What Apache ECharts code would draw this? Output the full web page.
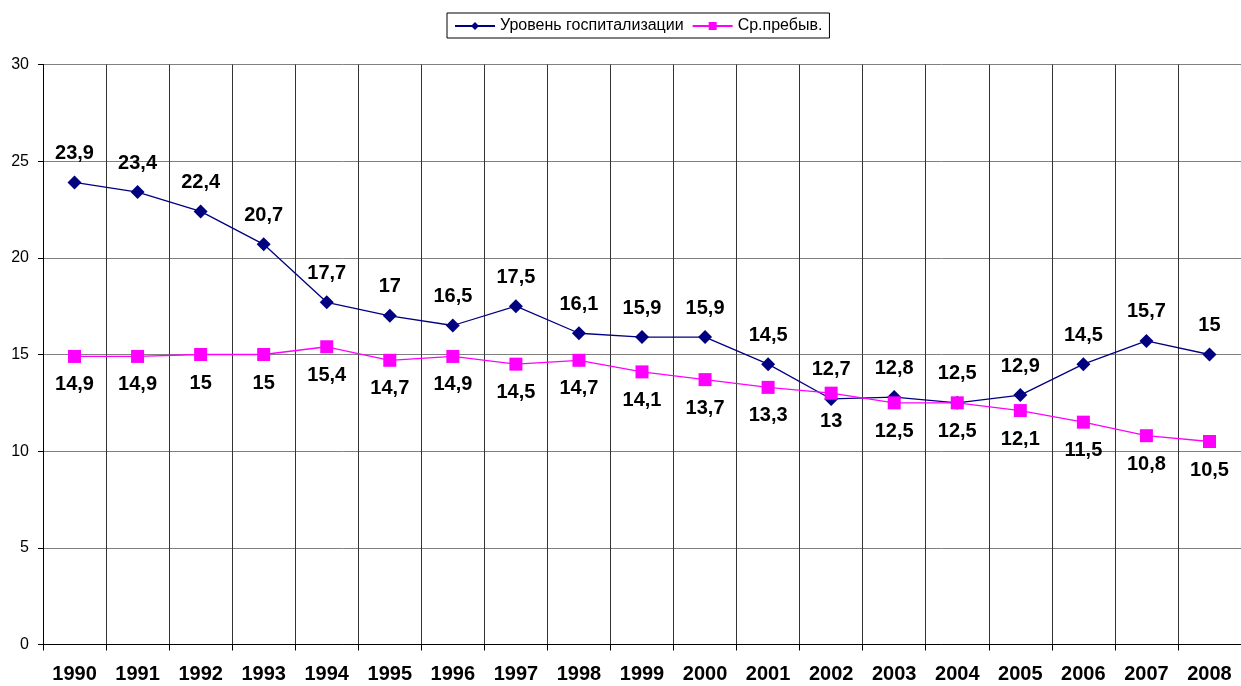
<!DOCTYPE html>
<html>
<head>
<meta charset="utf-8">
<script src="https://cdn.jsdelivr.net/npm/echarts@6/dist/echarts.min.js"></script>
<style>
html,body{margin:0;padding:0;background:#fff;}
#main{width:1241px;height:686px;}
</style>
</head>
<body>
<div id="main"></div>
<script>
var years = ['1990','1991','1992','1993','1994','1995','1996','1997','1998','1999','2000','2001','2002','2003','2004','2005','2006','2007','2008'];
var hospLevel = [23.9,23.4,22.4,20.7,17.7,17,16.5,17.5,16.1,15.9,15.9,14.5,12.7,12.8,12.5,12.9,14.5,15.7,15];
var avgStay = [14.9,14.9,15,15,15.4,14.7,14.9,14.5,14.7,14.1,13.7,13.3,13,12.5,12.5,12.1,11.5,10.8,10.5];

var myChart = echarts.init(document.getElementById('main'));

function fmt(p){
    return String(p.value).replace('.', ',');
}

var option = {
    animation: false,
    textStyle: {fontFamily: 'Liberation Sans, Arial, sans-serif'},
    legend: {
        top: 13,
        left: 447,
        padding: [5, 7, 4, 7],
        borderColor: '#000',
        borderWidth: 1,
        borderRadius: 0,
        itemGap: 8,
        itemWidth: 40,
        itemHeight: 10,
        textStyle: {fontSize: 16, color: '#000'},
        data: ['Уровень госпитализации', 'Ср.пребыв.']
    },
    grid: {
        left: 43,
        top: 64.5,
        width: 1205,
        height: 580
    },
    xAxis: {
        type: 'category',
        data: years,
        boundaryGap: true,
        axisLine: {lineStyle: {color: '#000', width: 1}},
        axisTick: {show: true, length: 6, inside: false, lineStyle: {color: '#000'}},
        axisLabel: {fontSize: 20, fontWeight: 'bold', color: '#000', margin: 20, interval: 0},
        splitLine: {show: true, interval: 0, lineStyle: {color: '#333', width: 1}}
    },
    yAxis: {
        type: 'value',
        min: 0,
        max: 30,
        interval: 5,
        axisLine: {show: true, lineStyle: {color: '#000', width: 1}},
        axisTick: {show: true, length: 5, lineStyle: {color: '#000'}},
        axisLabel: {fontSize: 16, color: '#000', margin: 14},
        splitLine: {show: true, lineStyle: {color: '#808080', width: 1}}
    },
    series: [
        {
            name: 'Уровень госпитализации',
            type: 'line',
            data: hospLevel,
            symbol: 'diamond',
            symbolSize: 14,
            itemStyle: {color: '#000080'},
            lineStyle: {color: '#000080', width: 1.3},
            label: {
                show: true,
                position: 'top',
                distance: 12,
                formatter: fmt,
                fontSize: 20,
                fontWeight: 'bold',
                color: '#000'
            }
        },
        {
            name: 'Ср.пребыв.',
            type: 'line',
            data: avgStay,
            symbol: 'rect',
            symbolSize: 13,
            itemStyle: {color: '#ff00ff'},
            lineStyle: {color: '#ff00ff', width: 1.3},
            label: {
                show: true,
                position: 'bottom',
                distance: 12,
                formatter: fmt,
                fontSize: 20,
                fontWeight: 'bold',
                color: '#000'
            }
        }
    ]
};

myChart.setOption(option);
</script>
</body>
</html>
